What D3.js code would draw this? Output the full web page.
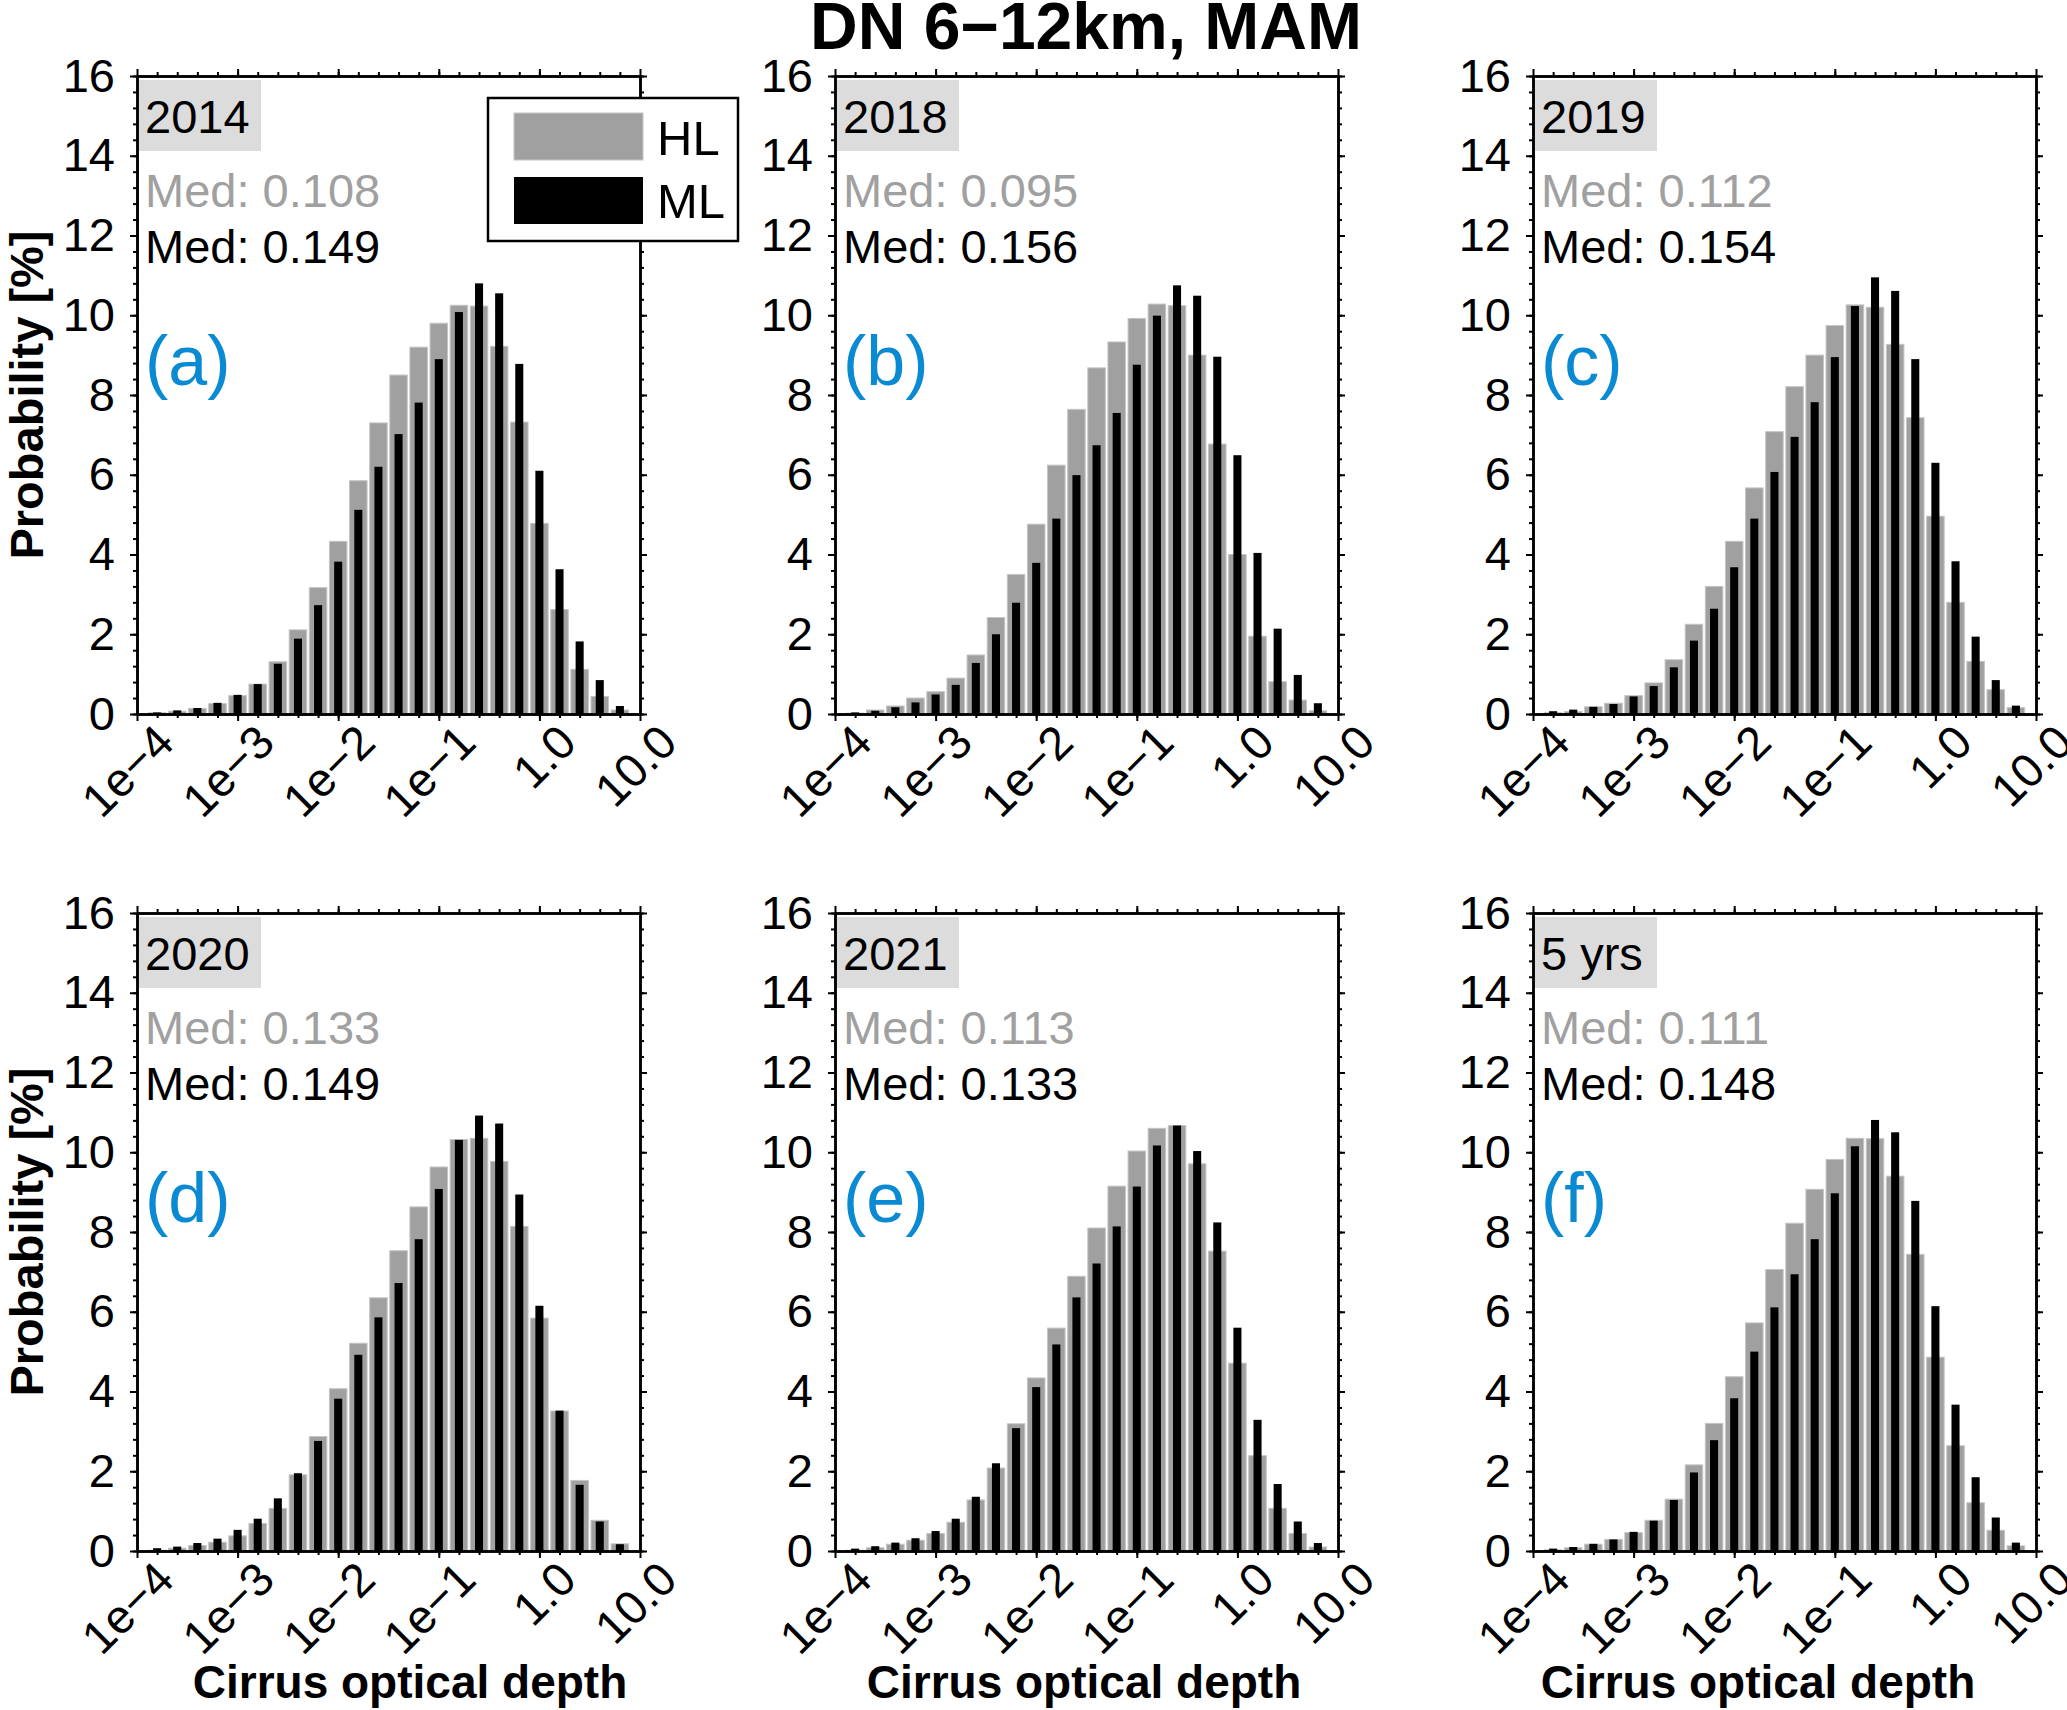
<!DOCTYPE html>
<html>
<head>
<meta charset="utf-8">
<script src="https://cdn.jsdelivr.net/npm/d3@7"></script>
<style>
  body { margin: 0; background: #fff; }
  svg { display: block; font-family: "Liberation Sans", Arial, sans-serif; }
</style>
</head>
<body>
<svg id="chart" width="2067" height="1710"></svg>
<script>
// panel labels and medians
const years = ['2014', '2018', '2019', '2020', '2021', '5 yrs'];
const letters = ['(a)', '(b)', '(c)', '(d)', '(e)', '(f)'];
const medHL = ['0.108', '0.095', '0.112', '0.133', '0.113', '0.111'];
const medML = ['0.149', '0.156', '0.154', '0.149', '0.133', '0.148'];

// bin centres, log10 of optical depth
const binLog = [-3.8, -3.6, -3.4, -3.2, -3.0, -2.8, -2.6, -2.4, -2.2, -2.0, -1.8, -1.6,
  -1.4, -1.2, -1.0, -0.8, -0.6, -0.4, -0.2, 0.0, 0.2, 0.4, 0.6, 0.8];

// probability [%] per bin, HL (grey) and ML (black)
const hl2014 = [0.03, 0.07, 0.14, 0.26, 0.46, 0.75, 1.31, 2.11, 3.17, 4.33, 5.85, 7.3, 8.5, 9.2, 9.8, 10.25, 10.23, 9.22, 7.32, 4.78, 2.62, 1.12, 0.44, 0.1];
const ml2014 = [0.04, 0.09, 0.15, 0.28, 0.48, 0.75, 1.26, 1.89, 2.73, 3.82, 5.12, 6.2, 7.02, 7.81, 8.9, 10.08, 10.8, 10.55, 8.78, 6.1, 3.63, 1.82, 0.85, 0.2];
const hl2018 = [0.02, 0.1, 0.2, 0.4, 0.56, 0.9, 1.48, 2.42, 3.5, 4.76, 6.24, 7.64, 8.68, 9.33, 9.92, 10.28, 10.24, 9.0, 6.77, 4.0, 1.95, 0.81, 0.35, 0.08];
const ml2018 = [0.04, 0.08, 0.17, 0.29, 0.49, 0.73, 1.28, 2.0, 2.79, 3.79, 4.9, 5.99, 6.74, 7.55, 8.76, 9.99, 10.75, 10.49, 8.96, 6.49, 4.04, 2.14, 0.98, 0.27];
const hl2019 = [0.03, 0.06, 0.18, 0.27, 0.46, 0.78, 1.36, 2.25, 3.2, 4.33, 5.67, 7.08, 8.21, 9.0, 9.74, 10.26, 10.2, 9.27, 7.43, 4.96, 2.8, 1.32, 0.61, 0.16];
const ml2019 = [0.07, 0.11, 0.18, 0.25, 0.44, 0.7, 1.17, 1.84, 2.64, 3.68, 4.9, 6.07, 6.95, 7.82, 8.95, 10.23, 10.95, 10.61, 8.9, 6.3, 3.83, 1.94, 0.85, 0.21];
const hl2020 = [0.02, 0.07, 0.14, 0.22, 0.38, 0.69, 1.07, 1.91, 2.87, 4.07, 5.21, 6.35, 7.53, 8.63, 9.63, 10.32, 10.35, 9.77, 8.14, 5.84, 3.51, 1.77, 0.77, 0.18];
const ml2020 = [0.07, 0.11, 0.2, 0.31, 0.53, 0.81, 1.32, 1.95, 2.76, 3.82, 4.92, 5.86, 6.72, 7.82, 9.08, 10.31, 10.92, 10.72, 8.94, 6.15, 3.52, 1.66, 0.74, 0.17];
const hl2021 = [0.02, 0.08, 0.17, 0.27, 0.44, 0.72, 1.28, 2.08, 3.19, 4.34, 5.59, 6.89, 8.1, 9.15, 10.03, 10.6, 10.67, 9.71, 7.52, 4.71, 2.39, 1.07, 0.44, 0.1];
const ml2021 = [0.06, 0.12, 0.21, 0.32, 0.5, 0.81, 1.36, 2.2, 3.08, 4.11, 5.18, 6.36, 7.21, 8.14, 9.14, 10.17, 10.67, 10.03, 8.24, 5.6, 3.29, 1.68, 0.74, 0.2];
const hlAll = [0.03, 0.08, 0.17, 0.29, 0.46, 0.77, 1.3, 2.16, 3.2, 4.37, 5.72, 7.06, 8.22, 9.07, 9.82, 10.35, 10.34, 9.4, 7.44, 4.86, 2.64, 1.21, 0.52, 0.13];
const mlAll = [0.06, 0.1, 0.18, 0.29, 0.48, 0.76, 1.28, 1.97, 2.78, 3.83, 5.0, 6.11, 6.94, 7.82, 8.97, 10.15, 10.81, 10.5, 8.78, 6.14, 3.67, 1.85, 0.84, 0.21];

const hlSeries = [hl2014, hl2018, hl2019, hl2020, hl2021, hlAll];
const mlSeries = [ml2014, ml2018, ml2019, ml2020, ml2021, mlAll];

// axis ticks
const xMajor = [1e-4, 1e-3, 1e-2, 1e-1, 1, 10];
const xLabels = ['1e\u22124', '1e\u22123', '1e\u22122', '1e\u22121', '1.0', '10.0'];
const yMajor = [0, 2, 4, 6, 8, 10, 12, 14, 16];

const colX = [137, 835, 1533];
const rowY = [76, 913];
const xLabelX = [410, 1084, 1758];
const pw = 503, ph = 638;
const FONT = '"Liberation Sans", Arial, sans-serif';
const blue = '#0a8ad2';
const grey = '#a0a0a0';

const svg = d3.select('#chart');
svg.append('rect').attr('width', 2067).attr('height', 1710).attr('fill', '#fff');

const x = d3.scaleLog().domain([1e-4, 10]).range([0, pw]);
const y = d3.scaleLinear().domain([0, 16]).range([ph, 0]);
const xMinor = binLog.map((v) => Math.pow(10, v));
const yMinor = d3.range(0, 16.01, 0.4);

function binWidth(v) {
  return x(Math.pow(10, v + 0.1)) - x(Math.pow(10, v - 0.1));
}

function styleAxis(sel) {
  sel.attr('font-family', FONT).attr('font-size', 47);
  sel.selectAll('path').attr('stroke', '#000').attr('stroke-width', 2.5);
  sel.selectAll('line').attr('stroke', '#000').attr('stroke-width', 2);
}

years.forEach((year, p) => {
  const col = p % 3;
  const row = Math.floor(p / 3);
  const g = svg.append('g').attr('transform', `translate(${colX[col]},${rowY[row]})`);

  const bins = binLog.map((v, i) => ({ v, hl: hlSeries[p][i], ml: mlSeries[p][i] }));

  // grey HL bars
  g.selectAll('rect.hl')
    .data(bins)
    .enter()
    .append('rect')
    .attr('class', 'hl')
    .attr('x', (d) => x(Math.pow(10, d.v)) - binWidth(d.v) * 0.435)
    .attr('width', (d) => binWidth(d.v) * 0.87)
    .attr('y', (d) => y(d.hl))
    .attr('height', (d) => y(0) - y(d.hl))
    .attr('fill', grey)
    .attr('stroke', '#c4c4c4')
    .attr('stroke-width', 1);

  // black ML bars
  g.selectAll('rect.ml')
    .data(bins)
    .enter()
    .append('rect')
    .attr('class', 'ml')
    .attr('x', (d) => x(Math.pow(10, d.v)) - binWidth(d.v) * 0.2)
    .attr('width', (d) => binWidth(d.v) * 0.4)
    .attr('y', (d) => y(d.ml))
    .attr('height', (d) => y(0) - y(d.ml))
    .attr('fill', '#000');

  // axes: minor ticks first, then majors
  g.append('g').attr('transform', `translate(0,${ph})`)
    .call(d3.axisBottom(x).tickValues(xMinor).tickSize(4).tickSizeOuter(0).tickFormat(''))
    .call(styleAxis);
  const bottom = g.append('g').attr('transform', `translate(0,${ph})`)
    .call(d3.axisBottom(x).tickValues(xMajor).tickSize(7).tickSizeOuter(0)
      .tickFormat((d, i) => xLabels[i]))
    .call(styleAxis);
  bottom.selectAll('text')
    .attr('x', 0).attr('y', 0).attr('dy', '0.72em')
    .attr('text-anchor', 'end')
    .attr('fill', '#000')
    .attr('transform', 'translate(15,7) rotate(-45)');

  g.append('g')
    .call(d3.axisTop(x).tickValues(xMinor).tickSize(4).tickSizeOuter(0).tickFormat(''))
    .call(styleAxis);
  g.append('g')
    .call(d3.axisTop(x).tickValues(xMajor).tickSize(7).tickSizeOuter(0).tickFormat(''))
    .call(styleAxis);

  g.append('g')
    .call(d3.axisLeft(y).tickValues(yMinor).tickSize(4).tickSizeOuter(0).tickFormat(''))
    .call(styleAxis);
  g.append('g')
    .call(d3.axisLeft(y).tickValues(yMajor).tickSize(7).tickSizeOuter(0).tickPadding(15))
    .call(styleAxis)
    .selectAll('text').attr('fill', '#000');

  g.append('g').attr('transform', `translate(${pw},0)`)
    .call(d3.axisRight(y).tickValues(yMinor).tickSize(4).tickSizeOuter(0).tickFormat(''))
    .call(styleAxis);
  g.append('g').attr('transform', `translate(${pw},0)`)
    .call(d3.axisRight(y).tickValues(yMajor).tickSize(7).tickSizeOuter(0).tickFormat(''))
    .call(styleAxis);

  // year box
  g.append('rect').attr('x', 2).attr('y', 4).attr('width', 122).attr('height', 71)
    .attr('fill', '#dcdcdc');
  g.append('text').attr('x', 8).attr('y', 57).attr('font-size', 47).text(year);

  g.append('text').attr('x', 8).attr('y', 131).attr('font-size', 47)
    .attr('fill', grey).text('Med: ' + medHL[p]);
  g.append('text').attr('x', 8).attr('y', 187).attr('font-size', 47)
    .attr('fill', '#000').text('Med: ' + medML[p]);

  g.append('text').attr('x', 8).attr('y', 309).attr('font-size', 70)
    .attr('fill', blue).text(letters[p]);

  // legend only in the first panel
  if (p === 0) {
    const lg = g.append('g').attr('transform', 'translate(351,22)');
    lg.append('rect').attr('width', 250).attr('height', 143)
      .attr('fill', '#fff').attr('stroke', '#000').attr('stroke-width', 2.5);
    lg.append('rect').attr('x', 26).attr('y', 15).attr('width', 129).attr('height', 47)
      .attr('fill', grey).attr('stroke', '#c4c4c4');
    lg.append('rect').attr('x', 26).attr('y', 79).attr('width', 129).attr('height', 47)
      .attr('fill', '#000');
    lg.append('text').attr('x', 169).attr('y', 57).attr('font-size', 49).text('HL');
    lg.append('text').attr('x', 169).attr('y', 120).attr('font-size', 49).text('ML');
  }
});

// shared labels
rowY.forEach((ry) => {
  svg.append('text')
    .attr('transform', `translate(43,${ry + ph / 2}) rotate(-90)`)
    .attr('text-anchor', 'middle')
    .attr('font-size', 47)
    .attr('font-weight', 'bold')
    .text('Probability [%]');
});

xLabelX.forEach((cx) => {
  svg.append('text')
    .attr('x', cx)
    .attr('y', 1698)
    .attr('text-anchor', 'middle')
    .attr('font-size', 46)
    .attr('font-weight', 'bold')
    .text('Cirrus optical depth');
});

svg.append('text')
  .attr('x', 1086)
  .attr('y', 49)
  .attr('text-anchor', 'middle')
  .attr('font-size', 66)
  .attr('font-weight', 'bold')
  .text('DN 6\u221212km, MAM');
</script>
</body>
</html>
